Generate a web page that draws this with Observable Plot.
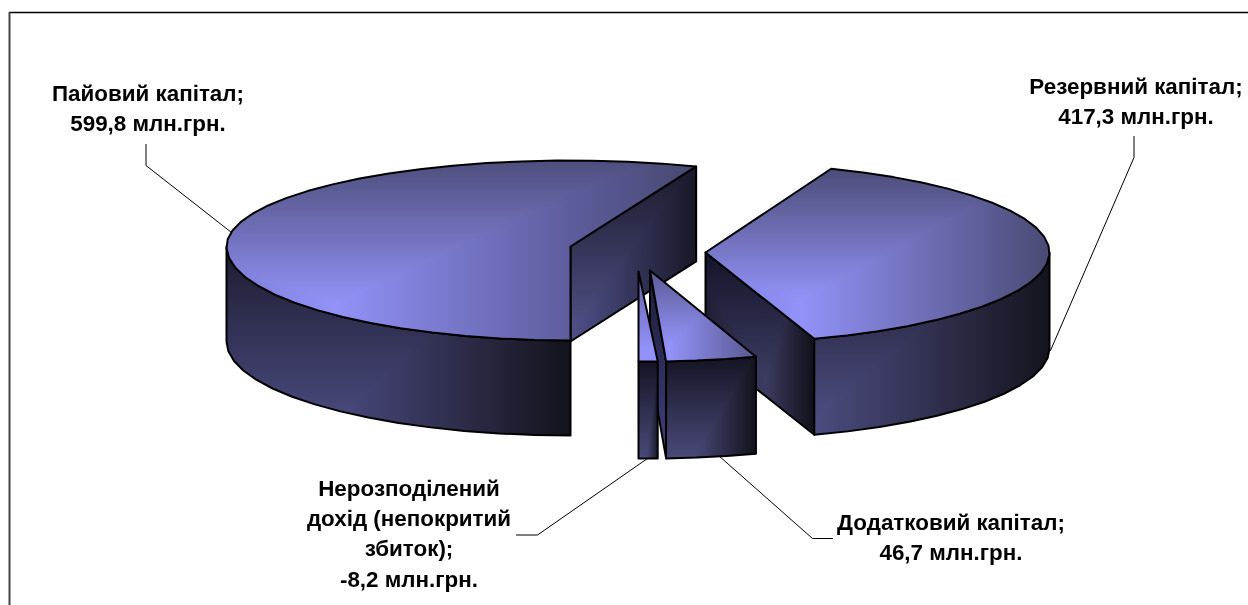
<!DOCTYPE html>
<html>
<head>
<meta charset="utf-8">
<script src="https://cdn.jsdelivr.net/npm/d3@7"></script>
<script src="https://cdn.jsdelivr.net/npm/@observablehq/plot@0.6"></script>
<style>
html,body{margin:0;padding:0;background:#fff}
svg{display:block}
</style>
</head>
<body>
<div id="chart"></div>
<script>
// ---- data ----
const categories = ["Пайовий капітал", "Резервний капітал", "Додатковий капітал", "Нерозподілений дохід (непокритий збиток)"];
const values = [599.8, 417.3, 46.7, -8.2];
const valueLabels = ["599,8 млн.грн.", "417,3 млн.грн.", "46,7 млн.грн.", "-8,2 млн.грн."];

// ---- layout (not data) ----
const W = 1248, H = 605;
const startAngle = 180;
const explode = [
  {cx: 570, cy: 246, rx: 344, back: 86, front: 94, depth: 95},
  {cx: 705, cy: 252, rx: 344, back: 90, front: 91, depth: 96},
  {cx: 649.5, cy: 270, rx: 335, back: 90, front: 91, depth: 97},
  {cx: 638, cy: 271, rx: 400, back: 90, front: 90, depth: 97}
];
const labelBoxes = [
  {x: 147.5, y: 105.5, text: "Пайовий капітал;\n" + valueLabels[0]},
  {x: 1135.5, y: 98.5, text: "Резервний капітал;\n" + valueLabels[1]},
  {x: 950.5, y: 534.5, text: "Додатковий капітал;\n" + valueLabels[2]},
  {x: 408.5, y: 531, text: "Нерозподілений\nдохід (непокритий\nзбиток);\n" + valueLabels[3]}
];
const leaders = [
  [[145.5, 144], [145.5, 165], [231, 232]],
  [[1133.5, 136], [1133.5, 157], [1050, 350]],
  [[832, 538], [812, 538], [718, 455]],
  [[516, 534.5], [537, 534.5], [647, 458]]
];

const B = "#9292f8";
const shades = {
  top0: {v: [[0, "#4e4e7c"], [.8, B], [1, B]], h: [[0, "#7e7ed8"], [.23, B], [.74, "#5c5c9c"], [1, "#484870"]]},
  top1: {v: [[0, "#4c4c78"], [.77, B], [1, B]], h: [[0, "#8080dc"], [.28, B], [1, "#4a4a74"]]},
  top2: {v: [[0, "#5a5a95"], [.8, B], [1, B]], h: [[0, "#8080e0"], [.18, B], [1, "#585890"]]},
  top3: {v: [[0, "#6060a8"], [.85, B], [1, B]], h: [[0, B], [1, B]]},
  rim0: {v: [[0, "#1c1c30"], [.9, "#48487c"], [1, "#48487c"]], h: [[0, "#3c3c64"], [.33, "#48487c"], [1, "#13131c"]]},
  rim1: {v: [[0, "#1c1c30"], [.9, "#4c4c80"], [1, "#4c4c80"]], h: [[0, "#4c4c80"], [1, "#14141e"]]},
  rim2: {v: [[0, "#141424"], [1, "#4a4a7a"]], h: [[0, "#4a4a7a"], [.3, "#4a4a7a"], [1, "#12121c"]]},
  rim3: {v: [[0, "#141424"], [1, "#4a4a7a"]], h: [[0, "#4a4a7a"], [.4, "#4a4a7a"], [1, "#181828"]]},
  face0: {v: [[0, "#1a1a2c"], [.9, "#4e4e82"], [1, "#4e4e82"]], h: [[0, "#50508a"], [1, "#181828"]]},
  face1: {v: [[0, "#14142a"], [.7, "#3c3c62"], [1, "#3c3c62"]], h: [[0, "#1e1e34"], [.55, "#3c3c62"], [1, "#10101a"]]},
  face2: {v: [[0, "#1c1c38"], [1, "#40407a"]], h: [[0, "#40407a"], [1, "#40407a"]]}
};

// ---- geometry derived from the values ----
const total = d3.sum(values, Math.abs);
let acc = startAngle;
const slices = values.map((v, i) => {
  const turn = acc >= 360 ? 360 : 0;
  const a0 = acc - turn, a1 = acc + Math.abs(v) / total * 360 - turn;
  acc = a1;
  return {i, a0, a1, ...explode[i]};
});
const rad = d => d * Math.PI / 180;
const rimPt = (s, a, dz = 0) => {
  const c = Math.cos(rad(a));
  return [s.cx + s.rx * Math.sin(rad(a)), s.cy - (c > 0 ? s.back : s.front) * c + dz];
};
const arc = (s, a0, a1, dz = 0) => {
  const n = Math.max(1, Math.ceil((a1 - a0) / 6));
  return d3.range(n + 1).map(k => rimPt(s, a0 + (a1 - a0) * k / n, dz));
};
const topPoly = s => [[s.cx, s.cy], ...arc(s, s.a0, s.a1)];
// the part of the rim that faces the viewer lies between 90° and 270°
const rimPoly = s => {
  const lo = Math.max(s.a0, 90), hi = Math.min(s.a1, 270);
  return [...arc(s, lo, hi), ...arc(s, lo, hi, s.depth).reverse()];
};
const facePoly = (s, a) => {
  const p = rimPt(s, a);
  return [[s.cx, s.cy], p, [p[0], p[1] + s.depth], [s.cx, s.cy + s.depth]];
};

// ---- marks ----
const defs = () => {
  const d = d3.create("svg:defs");
  const add = (id, dir, stops) => {
    const g = d.append("linearGradient").attr("id", id)
      .attr("x1", 0).attr("y1", 0)
      .attr("x2", dir === "h" ? 1 : 0).attr("y2", dir === "v" ? 1 : 0);
    stops.forEach(([o, c]) => g.append("stop").attr("offset", o).attr("stop-color", c));
  };
  Object.entries(shades).forEach(([k, s]) => { add(k + "v", "v", s.v); add(k + "h", "h", s.h); });
  return d.node();
};
const piece = (poly, key) => [
  Plot.line(poly, {x: "0", y: "1", curve: "linear-closed", fill: `url(#${key}v)`, stroke: "none"}),
  Plot.line(poly, {x: "0", y: "1", curve: "linear-closed", fill: `url(#${key}h)`, stroke: "none", mixBlendMode: "darken"}),
  Plot.line(poly, {x: "0", y: "1", curve: "linear-closed", fill: "none", stroke: "#000", strokeWidth: 2, strokeLinejoin: "round"})
];
const s = slices;
const pieMarks = [
  ...piece(facePoly(s[0], s[0].a1), "face0"),
  ...piece(rimPoly(s[0]), "rim0"),
  ...piece(topPoly(s[0]), "top0"),
  ...piece(facePoly(s[1], s[1].a1), "face1"),
  ...piece(rimPoly(s[1]), "rim1"),
  ...piece(topPoly(s[1]), "top1"),
  ...piece(facePoly(s[2], s[2].a1), "face2"),
  ...piece(rimPoly(s[2]), "rim2"),
  ...piece(topPoly(s[2]), "top2"),
  ...piece(rimPoly(s[3]), "rim3"),
  ...piece(topPoly(s[3]), "top3")
];

const chart = Plot.plot({
  width: W, height: H, margin: 0,
  x: {domain: [0, W], range: [0, W], axis: null},
  y: {domain: [0, H], range: [0, H], axis: null},
  style: {background: "#fff", overflow: "visible"},
  marks: [
    defs,
    Plot.ruleY([12], {stroke: "#000", strokeWidth: 1.5, x1: 9, x2: W}),
    Plot.ruleX([9], {stroke: "#444", strokeWidth: 2, y1: 12, y2: H}),
    ...leaders.map(l => Plot.line(l, {x: "0", y: "1", stroke: "#000", strokeWidth: 1})),
    ...pieMarks,
    Plot.text(labelBoxes, {
      x: "x", y: "y", text: "text", lineHeight: 1.36,
      fontFamily: "Liberation Sans, Arial, sans-serif", fontWeight: "bold", fontSize: 22.4,
      fill: "#000", textAnchor: "middle"
    })
  ]
});
document.getElementById("chart").append(chart);
</script>
</body>
</html>
